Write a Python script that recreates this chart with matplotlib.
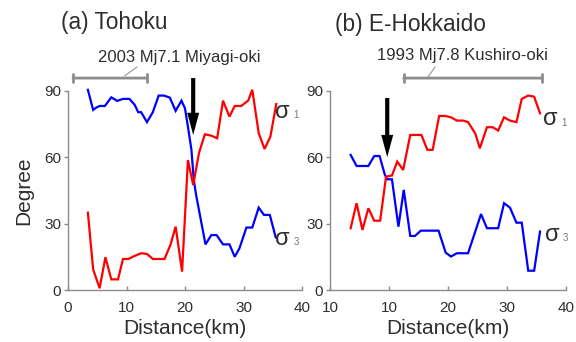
import matplotlib
matplotlib.use("Agg")
import matplotlib.pyplot as plt

plt.rcParams['font.family'] = ['Liberation Sans', 'DejaVu Sans']

# ---- data ----
a_s3_x = [3.4, 4.3, 4.85, 5.4, 6.3, 7.4, 8.4, 9.4, 10.5, 11.4, 12.0, 12.5, 13.5, 14.5, 15.5, 16.4,
          17.4, 18.4, 19.4, 20.0, 20.5, 21.1, 21.5, 21.9, 23.5, 24.5, 25.4, 26.5, 27.6, 28.5,
          29.3, 30.5, 31.5, 32.6, 33.5, 34.5, 35.5]
a_s3_y = [90.4, 81.3, 82.4, 83.1, 83.1, 87.0, 85.4, 86.3, 86.3, 83.6, 80.3, 80.3, 75.8, 80.3,
          87.8, 87.8, 86.9, 80.9, 85.5, 82.0, 73.8, 63.3, 49.7, 42.9, 20.6, 24.8, 24.8, 20.6,
          20.6, 15.0, 18.8, 28.2, 28.2, 37.2, 33.9, 33.9, 23.8]
a_s1_x = [3.4, 4.3, 5.4, 6.4, 7.4, 8.55, 9.4, 10.3, 11.4, 12.5, 13.5, 14.5, 15.5, 16.5, 17.5,
          18.4, 19.5, 20.5, 21.4, 22.4, 23.4, 24.5, 25.5, 26.5, 27.6, 28.5, 29.6, 30.8, 31.5,
          32.6, 33.6, 34.6, 35.6]
a_s1_y = [34.9, 9.3, 0.8, 14.8, 4.8, 4.8, 14.0, 14.0, 15.4, 16.6, 16.3, 14.0, 14.0, 14.0, 20.3,
          28.6, 8.3, 58.7, 47.4, 62.0, 70.3, 69.7, 68.5, 85.5, 78.3, 83.1, 83.1, 85.5, 90.4,
          70.8, 63.7, 69.3, 84.0]

b_s3_x = [3.5, 4.5, 5.6, 6.5, 7.5, 8.4, 9.3, 9.7, 10.5, 11.6, 12.5, 13.6, 14.4, 15.4, 16.3,
          17.4, 18.4, 19.6, 20.5, 21.5, 22.6, 23.4, 25.6, 26.6, 27.7, 28.5, 29.5, 30.5, 31.6,
          32.5, 33.6, 34.6, 35.6]
b_s3_y = [61.0, 56.0, 56.0, 56.0, 60.5, 60.5, 52.0, 50.0, 50.0, 28.6, 45.2, 24.4, 24.4, 26.8,
          26.8, 26.8, 26.8, 16.9, 15.1, 16.6, 16.6, 16.6, 34.3, 27.9, 27.9, 27.9, 39.2, 37.2,
          30.4, 30.4, 8.7, 8.7, 26.4]
b_s1_x = [3.5, 4.5, 5.5, 6.5, 7.5, 8.5, 9.5, 10.5, 11.4, 12.4, 13.6, 14.7, 15.5, 16.5, 17.4,
          18.5, 19.5, 20.5, 21.5, 22.6, 23.4, 24.6, 25.4, 26.6, 27.6, 28.5, 29.5, 30.5, 31.6,
          32.5, 33.6, 34.6, 35.6]
b_s1_y = [27.9, 39.2, 27.1, 36.9, 31.3, 31.3, 51.2, 51.7, 58.0, 54.2, 70.0, 70.0, 70.0, 63.3,
          63.3, 78.6, 78.6, 78.0, 76.5, 76.5, 75.8, 70.8, 64.0, 73.5, 73.5, 72.0, 78.0, 76.5,
          75.8, 86.3, 87.8, 87.3, 79.8]

x_ticks = [0, 10, 20, 30, 40]
y_ticks = [0, 30, 60, 90]
a_xticklabels = ['0', '10', '20', '30', '40']
b_xticklabels = ['10', '10', '20', '30', '40']

a_title = '(a) Tohoku'
b_title = '(b) E-Hokkaido'
a_eq = '2003 Mj7.1 Miyagi-oki'
b_eq = '1993 Mj7.8 Kushiro-oki'
a_range = (0.85, 13.5)
b_range = (12.5, 35.9)
a_arrow_x = 21.4
b_arrow_x = 9.7

GREY = '#8c8c8c'
TXT = '#2e2e2e'

fig = plt.figure(figsize=(5.76, 3.42), dpi=100)
axa = fig.add_axes([68/576, 52/342, 234/576, 199.3/342])
axb = fig.add_axes([330/576, 52/342, 236/576, 199.3/342])


def style(ax, labels):
    ax.set_xlim(0, 40)
    ax.set_ylim(0, 90)
    for s in ['top', 'right']:
        ax.spines[s].set_visible(False)
    for s in ['left', 'bottom']:
        ax.spines[s].set_color(GREY)
        ax.spines[s].set_linewidth(1.0)
    ax.set_xticks(x_ticks)
    ax.set_xticklabels(labels)
    ax.set_yticks(y_ticks)
    ax.tick_params(axis='both', colors=GREY, labelcolor=TXT, labelsize=11,
                   length=3, width=1.0, pad=2)
    ax.tick_params(axis='x', direction='in', pad=8)
    ax.set_xlabel('Distance(km)', fontsize=15, color=TXT, labelpad=3)


style(axa, a_xticklabels)
style(axb, b_xticklabels)
axa.set_ylabel('Degree', fontsize=15, color=TXT, labelpad=8)

for ax, s1x, s1y, s3x, s3y in [(axa, a_s1_x, a_s1_y, a_s3_x, a_s3_y),
                               (axb, b_s1_x, b_s1_y, b_s3_x, b_s3_y)]:
    ax.plot(s3x, s3y, color='#0000ff', lw=1.6, clip_on=False, solid_joinstyle='miter')
    ax.plot(s1x, s1y, color='#ff0000', lw=1.6, clip_on=False, solid_joinstyle='miter')


def sigma(ax, x, y, sub):
    ax.text(x, y, '\u03c3', fontsize=17, color=TXT, ha='center', va='center', clip_on=False)
    ax.text(x + 2.3, y - 1.5, sub, fontsize=7, color='#777777', ha='center', va='center',
            clip_on=False)


sigma(axa, 36.6, 80.5, '1')
sigma(axa, 36.7, 23.0, '3')
sigma(axb, 37.3, 77.0, '1')
sigma(axb, 37.6, 25.0, '3')

# earthquake ranges
for ax, rng, txt, tx, ty, l0, l1 in [
        (axa, a_range, a_eq, 19.1, 105.2, (9.7, 96.7), (11.8, 100.7)),
        (axb, b_range, b_eq, 22.4, 105.7, (16.6, 96.2), (17.8, 100.7))]:
    ax.annotate('', xy=(rng[1], 95.7), xytext=(rng[0], 95.7),
                arrowprops=dict(arrowstyle='|-|,widthA=0.28,widthB=0.28', color=GREY, lw=2,
                                shrinkA=0, shrinkB=0), annotation_clip=False)
    ax.plot([l0[0], l1[0]], [l0[1], l1[1]], color=GREY, lw=0.7, clip_on=False)
    ax.text(tx, ty, txt, fontsize=12, color=TXT, ha='center', va='center', clip_on=False)

# black arrows
for ax, ax_x, y0, y1 in [(axa, a_arrow_x, 95.7, 70.0), (axb, b_arrow_x, 86.7, 60.0)]:
    ax.annotate('', xy=(ax_x, y1), xytext=(ax_x, y0),
                arrowprops=dict(arrowstyle='simple,head_length=1.6,head_width=0.86,tail_width=0.3',
                                mutation_scale=10, facecolor='black', edgecolor='none',
                                shrinkA=0, shrinkB=0), annotation_clip=False)

fig.text(61/576, 1 - 23/342, a_title, fontsize=16.3, color=TXT, ha='left', va='center')
fig.text(335/576, 1 - 24/342, b_title, fontsize=16.3, color=TXT, ha='left', va='center')

fig.savefig('out.png', dpi=100)
